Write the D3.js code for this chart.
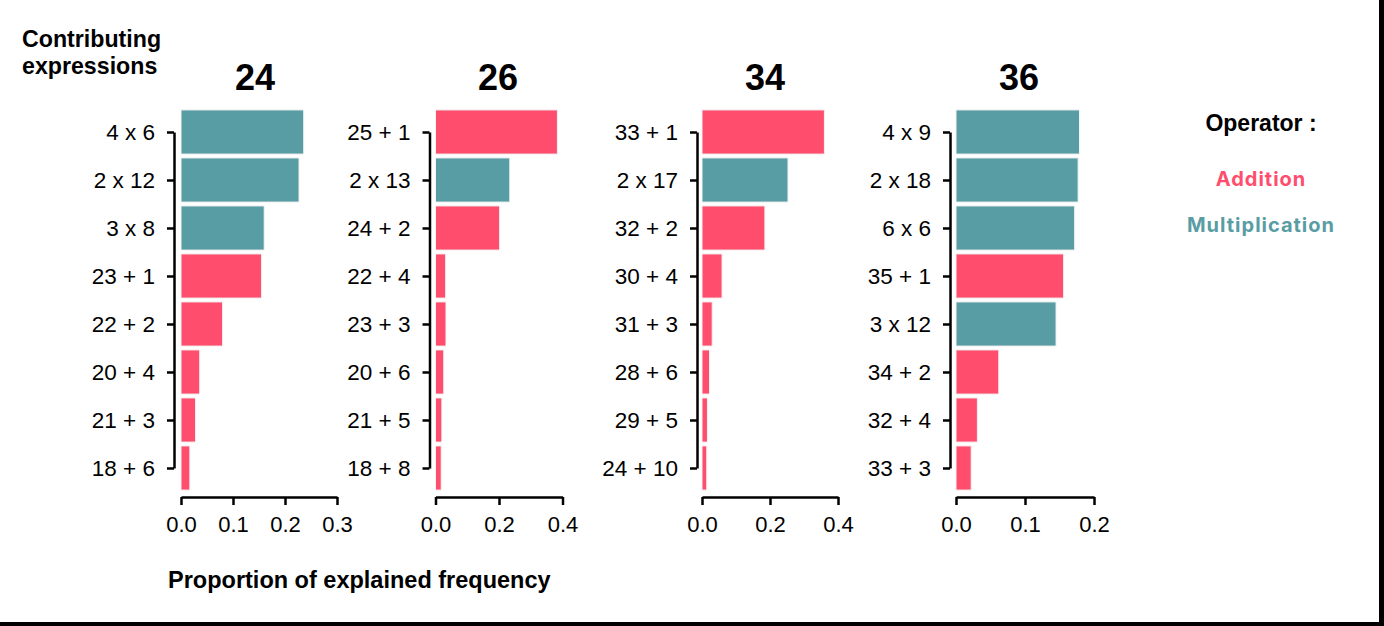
<!DOCTYPE html>
<html>
<head>
<meta charset="utf-8">
<script src="https://cdn.jsdelivr.net/npm/d3@7"></script>
<style>
  body { margin: 0; background: #fff; }
  svg { display: block; }
</style>
</head>
<body>
<div id="chart"></div>
<script>
// target numbers (panel titles)
var targets = ["24", "26", "34", "36"];

// contributing expressions, top to bottom, per target
var labels24 = ["4 x 6", "2 x 12", "3 x 8", "23 + 1", "22 + 2", "20 + 4", "21 + 3", "18 + 6"];
var labels26 = ["25 + 1", "2 x 13", "24 + 2", "22 + 4", "23 + 3", "20 + 6", "21 + 5", "18 + 8"];
var labels34 = ["33 + 1", "2 x 17", "32 + 2", "30 + 4", "31 + 3", "28 + 6", "29 + 5", "24 + 10"];
var labels36 = ["4 x 9", "2 x 18", "6 x 6", "35 + 1", "3 x 12", "34 + 2", "32 + 4", "33 + 3"];

// proportion of explained frequency
var values24 = [0.236, 0.227, 0.160, 0.155, 0.080, 0.036, 0.028, 0.017];
var values26 = [0.384, 0.234, 0.202, 0.032, 0.033, 0.026, 0.020, 0.018];
var values34 = [0.360, 0.253, 0.185, 0.059, 0.030, 0.022, 0.016, 0.014];
var values36 = [0.179, 0.177, 0.172, 0.156, 0.145, 0.062, 0.031, 0.022];

// x tick values per panel
var ticks24 = [0, 0.1, 0.2, 0.3];
var ticks26 = [0, 0.2, 0.4];
var ticks34 = [0, 0.2, 0.4];
var ticks36 = [0, 0.1, 0.2];

var operators = ["Addition", "Multiplication"];

var allLabels = [labels24, labels26, labels34, labels36];
var allValues = [values24, values26, values34, values36];
var allTicks = [ticks24, ticks26, ticks34, ticks36];

// layout of each small panel (pixels)
var panelLayout = [
  {x0: 181, width: 156, axisX: 174, titleX: 255},
  {x0: 435.5, width: 127, axisX: 429.5, titleX: 498},
  {x0: 702, width: 136, axisX: 697, titleX: 765},
  {x0: 956, width: 138, axisX: 950, titleX: 1019}
];

var W = 1384, H = 626;
var barTop = 108, barBottom = 492, xAxisY = 497;
var font = "'Liberation Sans', Arial, sans-serif";

var color = d3.scaleOrdinal()
  .domain(operators)
  .range(["#FF4D6D", "#599DA4"]);

function opOf(label) {
  return label.indexOf("+") >= 0 ? "Addition" : "Multiplication";
}

var svg = d3.select("#chart")
  .append("svg")
  .attr("width", W)
  .attr("height", H)
  .style("font-family", font);

// frame edges (right and bottom)
svg.append("rect").attr("x", 1379).attr("y", 0).attr("width", 5).attr("height", H).attr("fill", "#000");
svg.append("rect").attr("x", 0).attr("y", 622).attr("width", W).attr("height", 4).attr("fill", "#000");

targets.forEach(function(t, i) {
  var lay = panelLayout[i];
  var labels = allLabels[i];
  var values = allValues[i];
  var tickVals = allTicks[i];

  var data = labels.map(function(l, j) {
    return {label: l, value: values[j], op: opOf(l)};
  });

  var x = d3.scaleLinear()
    .domain([0, tickVals[tickVals.length - 1]])
    .range([lay.x0, lay.x0 + lay.width]);

  var y = d3.scaleBand()
    .domain(labels)
    .range([barTop, barBottom])
    .paddingInner(0.08)
    .paddingOuter(0.04);

  var yPoint = d3.scalePoint()
    .domain(labels)
    .range([y(labels[0]) + y.bandwidth() / 2, y(labels[labels.length - 1]) + y.bandwidth() / 2]);

  var g = svg.append("g");

  g.selectAll(".bar")
    .data(data)
    .enter()
    .append("rect")
    .attr("class", "bar")
    .attr("x", x(0))
    .attr("y", function(d) { return y(d.label); })
    .attr("width", function(d) { return x(d.value) - x(0); })
    .attr("height", y.bandwidth())
    .attr("fill", function(d) { return color(d.op); })
    .attr("stroke", "#f4f4f4")
    .attr("stroke-width", 1);

  // y axis
  var yAx = g.append("g")
    .attr("transform", "translate(" + lay.axisX + ",0)")
    .call(d3.axisLeft(yPoint).tickSize(7).tickSizeOuter(0).tickPadding(12));
  yAx.selectAll("text").style("font-size", "22.5px").style("font-family", font).attr("fill", "#000");

  // x axis
  var xAx = g.append("g")
    .attr("transform", "translate(0," + xAxisY + ")")
    .call(d3.axisBottom(x).tickValues(tickVals).tickFormat(d3.format(".1f")).tickSize(8).tickSizeOuter(0).tickPadding(11));
  xAx.selectAll("text").style("font-size", "22px").style("font-family", font).attr("fill", "#000");

  [yAx, xAx].forEach(function(a) {
    a.selectAll("path, line").attr("stroke", "#000").attr("stroke-width", 2.5);
  });

  g.append("text")
    .attr("x", lay.titleX)
    .attr("y", 90)
    .attr("text-anchor", "middle")
    .style("font-size", "36px")
    .style("font-weight", "bold")
    .text(t);
});

// axis titles
svg.append("text")
  .attr("x", 22)
  .attr("y", 47)
  .style("font-size", "23.2px")
  .style("font-weight", "bold")
  .text("Contributing");
svg.append("text")
  .attr("x", 22)
  .attr("y", 74)
  .style("font-size", "23.2px")
  .style("font-weight", "bold")
  .text("expressions");

svg.append("text")
  .attr("x", 168)
  .attr("y", 588)
  .style("font-size", "23.5px")
  .style("font-weight", "bold")
  .text("Proportion of explained frequency");

// legend
svg.append("text")
  .attr("x", 1261)
  .attr("y", 131)
  .attr("text-anchor", "middle")
  .style("font-size", "23px")
  .style("font-weight", "bold")
  .text("Operator :");

svg.selectAll(".legend")
  .data(operators)
  .enter()
  .append("text")
  .attr("class", "legend")
  .attr("x", 1261)
  .attr("y", function(d, i) { return 186 + i * 46; })
  .attr("text-anchor", "middle")
  .style("font-family", "Inter, 'Open Sans', sans-serif")
  .style("font-size", "20px")
  .style("font-weight", "bold")
  .style("letter-spacing", "1px")
  .attr("fill", function(d) { return color(d); })
  .text(function(d) { return d; });
</script>
</body>
</html>
